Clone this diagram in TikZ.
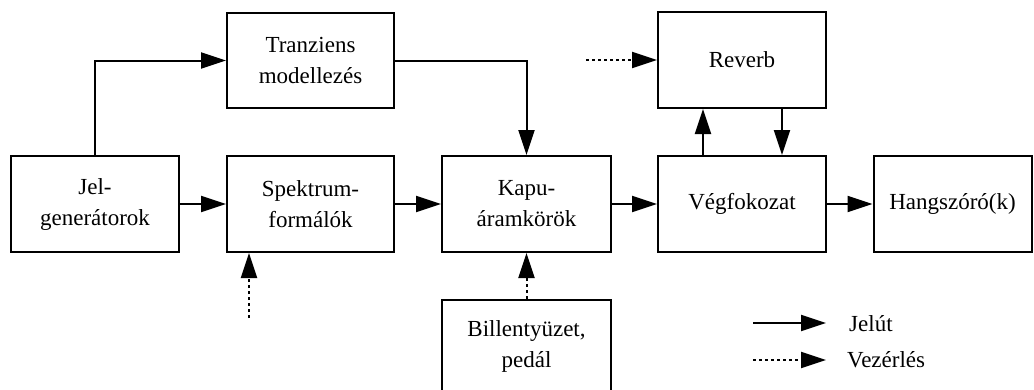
\documentclass[tikz,border=0pt]{standalone}
\usepackage{fontspec}
\setmainfont{Liberation Serif}
\usetikzlibrary{arrows.meta}
\begin{document}
\begin{tikzpicture}[x=1pt,y=-1pt,
  block/.style={draw,line width=2pt,rectangle,minimum width=168pt,minimum height=96pt,
    align=center,inner sep=2pt,font=\fontsize{23}{31}\selectfont},
  sig/.style={line width=2pt,-{Triangle[length=25pt,width=16pt]}},
  ctrl/.style={line width=2pt,dash pattern=on 3pt off 3pt,-{Triangle[length=25pt,width=16pt]}},
  legtext/.style={inner sep=0pt,anchor=base west,font=\fontsize{23}{31}\selectfont}]
\useasboundingbox (0,0) rectangle (1034,389);

% signal chain
\node[block] (jel)  at (95,204)    {Jel-\\generátorok};
\node[block,minimum width=167pt] (spek) at (310.5,204) {Spektrum-\\formálók};
\node[block,minimum width=169pt] (kapu) at (526.5,204) {Kapu-\\áramkörök};
\node[block] (veg)  at (742,204)   {Végfokozat};
\node[block,minimum width=158pt] (hang) at (952.5,204) {Hangszóró(k)};

% upper row
\node[block,minimum width=167pt,minimum height=95pt] (tran) at (310.5,60.5) {Tranziens\\modellezés};
\node[block] (rev) at (742,60) {Reverb};

% keyboard box, running off the lower edge
\node[block,minimum width=169pt,minimum height=92pt] (bill) at (526.5,346) {Billentyüzet,\\pedál};

% signal connections
\draw[sig] (jel.north) |- (tran.west);
\draw[sig] (tran.east) -| (kapu.north);
\draw[sig] (jel) -- (spek);
\draw[sig] (spek) -- (kapu);
\draw[sig] (kapu) -- (veg);
\draw[sig] (veg) -- (hang);
\draw[sig] ([xshift=-39pt]veg.north) -- ([xshift=-39pt]rev.south);
\draw[sig] ([xshift=40pt]rev.south) -- ([xshift=40pt]veg.north);

% control connections
\coordinate (revin) at (586,60);
\draw[ctrl] (revin) -- (rev.west);
\coordinate (spekin) at (249,318);
\draw[ctrl] (spekin) -- (spekin |- spek.south);
\draw[ctrl] (bill.north) -- (kapu.south);

% legend
\coordinate (l1a) at (753,323);
\coordinate (l1b) at (826,323);
\coordinate (l2a) at (753,360);
\coordinate (l2b) at (826,360);
\draw[sig] (l1a) -- (l1b);
\draw[ctrl] (l2a) -- (l2b);
\node[legtext] (leg1) at (849,331) {Jelút};
\node[legtext] (leg2) at (847,367) {Vezérlés};
\end{tikzpicture}
\end{document}
